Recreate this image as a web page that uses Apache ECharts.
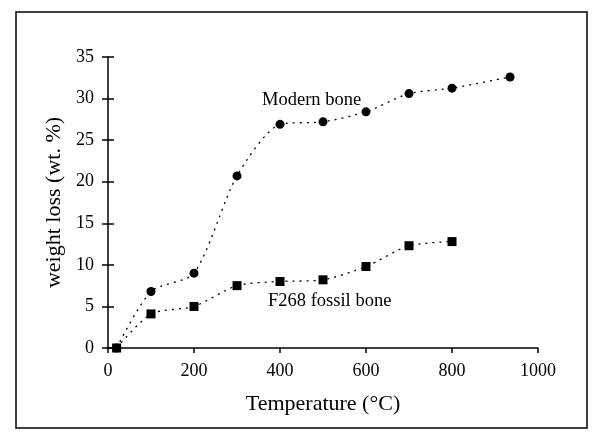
<!DOCTYPE html>
<html>
<head>
<meta charset="utf-8">
<script src="https://cdn.jsdelivr.net/npm/echarts@6/dist/echarts.min.js"></script>
<style>
    html, body { margin: 0; padding: 0; background: #fff; }
    #chart { width: 594px; height: 439px; }
</style>
</head>
<body>
<div id="chart"></div>
<script>
'use strict';
// values
var temps = [20, 100, 200, 300, 400, 500, 600, 700, 800, 935];
var modernBone = [0, 6.8, 9.0, 20.7, 26.9, 27.2, 28.4, 30.6, 31.25, 32.6];
var fossilTemps = [20, 100, 200, 300, 400, 500, 600, 700, 800];
var fossilBone = [0, 4.1, 5.0, 7.5, 8.0, 8.2, 9.8, 12.3, 12.8];

var serif = 'Liberation Serif';

var pairs = function (xs, ys) {
    return xs.map(function (x, i) { return [x, ys[i]]; });
};

var chart = echarts.init(document.getElementById('chart'));

var tickStyle = { color: '#000', width: 1.5 };
var baseX = {
    type: 'value', min: 0, max: 1000, interval: 200,
    splitLine: { show: false }
};
var baseY = {
    type: 'value', min: 0, max: 35, interval: 5,
    splitLine: { show: false }
};

var option = {
    animation: false,
    backgroundColor: '#fff',
    grid: { left: 108, top: 57, width: 430, height: 291 },
    xAxis: [
        Object.assign({}, baseX, {
            name: 'Temperature (°C)',
            nameLocation: 'middle',
            nameGap: 45,
            nameTextStyle: { fontFamily: serif, fontSize: 22, color: '#000' },
            axisLine: { lineStyle: { color: '#000', width: 1.5 } },
            axisTick: { length: 5, lineStyle: tickStyle },
            axisLabel: {
                fontFamily: serif, fontSize: 18, color: '#000', margin: 14,
                formatter: function (v) { return String(v); }
            }
        }),
        // second copy only draws the inner half of each tick
        Object.assign({}, baseX, {
            axisLine: { show: false },
            axisTick: { inside: true, length: 5, lineStyle: tickStyle },
            axisLabel: { show: false }
        })
    ],
    yAxis: [
        Object.assign({}, baseY, {
            name: 'weight loss (wt. %)',
            nameLocation: 'middle',
            nameGap: 38,
            nameTextStyle: { fontFamily: serif, fontSize: 22, color: '#000' },
            axisLine: { lineStyle: { color: '#000', width: 1.5 } },
            axisTick: { length: 6, lineStyle: tickStyle },
            axisLabel: { fontFamily: serif, fontSize: 18, color: '#000', margin: 14 }
        }),
        Object.assign({}, baseY, {
            position: 'left',
            axisLine: { show: false },
            axisTick: { inside: true, length: 6, lineStyle: tickStyle },
            axisLabel: { show: false }
        })
    ],
    series: [
        {
            name: 'Modern bone',
            type: 'line',
            smooth: 0.25,
            data: pairs(temps, modernBone),
            symbol: 'circle',
            symbolSize: 9,
            itemStyle: { color: '#000' },
            lineStyle: { color: '#000', width: 1.3, type: [2, 5] }
        },
        {
            name: 'F268 fossil bone',
            type: 'line',
            smooth: 0.25,
            data: pairs(fossilTemps, fossilBone),
            symbol: 'rect',
            symbolSize: 9,
            itemStyle: { color: '#000' },
            lineStyle: { color: '#000', width: 1.3, type: [2, 5] }
        }
    ],
    graphic: [
        {
            type: 'rect',
            shape: { x: 16, y: 12, width: 571, height: 416 },
            style: { fill: 'none', stroke: '#000', lineWidth: 1.5 },
            silent: true
        },
        {
            type: 'text', left: 262, top: 91,
            style: { text: 'Modern bone', font: '18.5px "Liberation Serif"', fill: '#000' }
        },
        {
            type: 'text', left: 268, top: 292,
            style: { text: 'F268 fossil bone', font: '18.5px "Liberation Serif"', fill: '#000' }
        }
    ]
};

chart.setOption(option);
</script>
</body>
</html>
